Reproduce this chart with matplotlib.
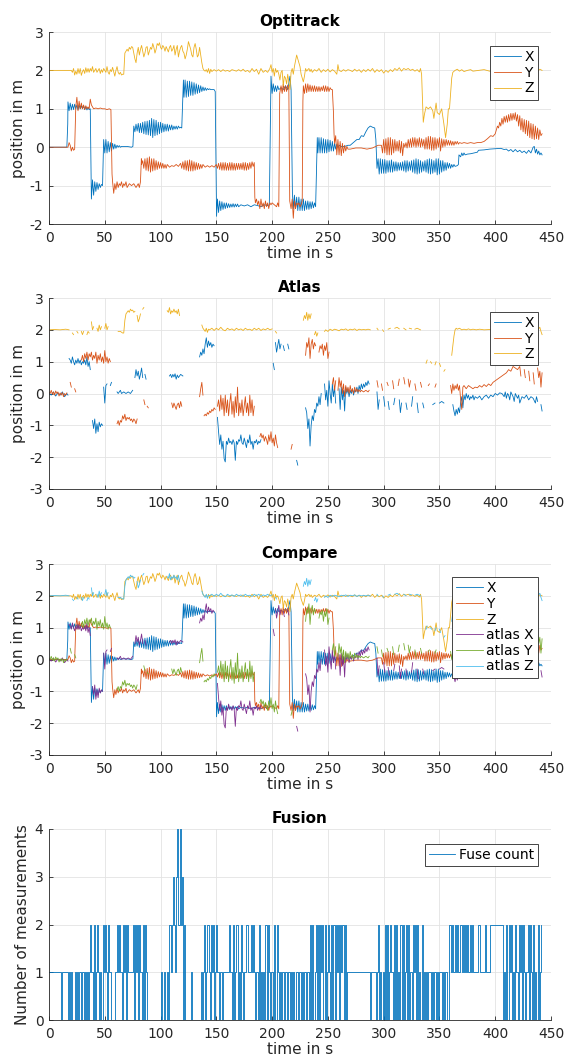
import numpy as np
import matplotlib
matplotlib.use("Agg")
import matplotlib.pyplot as plt

# ---------------- data ----------------
G = None  # gap marker (no measurement)

opt_x = [(0,0),(16,0),(16.8,0.6),(17,1.18),(18,0.95),(19,1.15),(20,0.97),(21,1.12),(22,0.98),(23,1.12),(24,1.0),(25,1.1),
 (26,0.98),(27,1.1),(28,1.0),(29,1.08),(30,1.0),(31,1.08),(32,0.98),(33,1.05),(34,0.97),(35,1.03),(36,0.98),(37,1.0),
 (38,-1.35),(39,-0.85),(40,-1.25),(41,-0.9),(42,-1.15),(43,-0.92),(44,-1.1),(45,-0.95),(46,-1.05),(47,-0.97),(48,-1.0),
 (49,0.2),(50,-0.15),(51,0.2),(52,-0.15),(53,0.15),(54,-0.12),(55,0.12),(56,-0.1),(57,0.1),(58,-0.05),(59,0.08),(60,-0.03),
 (61,0.05),(62,0.0),(63,0.04),(64,0.0),(65,0.02),(70,0.02),(74,0.0),(75.2,0.02),
 (76,0.55),(77,0.4),(78,0.6),(79,0.42),(80,0.62),(81,0.38),(82,0.62),(83,0.38),(84,0.65),(85,0.35),(86,0.67),(87,0.33),
 (88,0.68),(89,0.32),(90,0.7),(91,0.3),(92,0.75),(93,0.25),(94,0.72),(95,0.3),(96,0.7),(97,0.32),(98,0.65),(99,0.35),
 (100,0.65),(101,0.38),(102,0.62),(103,0.4),(104,0.6),(105,0.42),(106,0.6),(107,0.42),(108,0.58),(109,0.45),(110,0.58),
 (111,0.45),(112,0.55),(113,0.47),(114,0.55),(115,0.47),(116,0.55),(117,0.5),(118,0.52),(119,0.5),
 (120.5,1.75),(121,1.3),(122,1.75),(123,1.3),(124,1.72),(125,1.32),(126,1.72),(127,1.35),(128,1.7),(129,1.35),(130,1.68),
 (131,1.38),(132,1.65),(133,1.4),(134,1.62),(135,1.42),(136,1.6),(137,1.45),(138,1.57),(139,1.47),(140,1.55),(141,1.48),
 (142,1.53),(143,1.5),(144,1.52),(145,1.5),(148,1.5),(149,1.45),
 (150.2,-1.8),(151,-1.35),(152,-1.7),(153,-1.4),(154,-1.65),(155,-1.42),(156,-1.62),(157,-1.45),(158,-1.6),(159,-1.45),
 (160,-1.58),(161,-1.47),(162,-1.57),(163,-1.48),(164,-1.56),(165,-1.47),(166,-1.56),(167,-1.48),(168,-1.55),(169,-1.48),
 (170,-1.55),(172,-1.5),(175,-1.53),(178,-1.5),(181,-1.55),(184,-1.5),(187,-1.52),(190,-1.55),(193,-1.5),(196,-1.52),(197.5,-1.5),
 (199,1.85),(200,1.4),(201,1.65),(202,1.45),(203,1.6),(204,1.45),(205,1.6),(206,1.5),(208,1.55),(210,1.5),(212,1.6),
 (214,1.5),(216,1.85),(217,1.5),(218.2,-1.2),(219,-1.6),(220,-1.25),(221,-1.6),(222,-1.3),(223,-1.65),(224,-1.3),(225,-1.65),
 (226,-1.35),(227,-1.65),(228,-1.35),(229,-1.65),(230,-1.4),(231,-1.62),(232,-1.4),(233,-1.62),(234,-1.42),(235,-1.6),
 (236,-1.42),(237,-1.58),(238,-1.45),(239,-1.55),
 (240.5,0.25),(241,-0.15),(242,0.25),(243,-0.15),(244,0.25),(245,-0.15),(246,0.22),(247,-0.15),(248,0.2),(249,-0.15),
 (250,0.2),(251,-0.12),(252,0.18),(253,-0.1),(254,0.15),(255,-0.1),(256,0.1),(257,-0.05),(258,0.08),(259,-0.02),(260,0.05),
 (262,0.02),(265,0.02),(268,0.05),(270,0.05),(272,0.1),(274,0.15),(276,0.2),(278,0.2),(280,0.3),(282,0.28),(284,0.4),
 (286,0.5),(288,0.55),(290,0.52),(292,0.5),(293,0.2),(294,-0.55),
 (295,-0.3),(296,-0.7),(297,-0.3),(298,-0.68),(299,-0.32),(300,-0.68),(301,-0.32),(302,-0.68),(303,-0.35),(304,-0.65),
 (305,-0.35),(306,-0.65),(307,-0.33),(308,-0.65),(309,-0.38),(310,-0.62),(311,-0.38),(312,-0.62),(313,-0.4),(314,-0.6),
 (315,-0.4),(316,-0.6),(317,-0.38),(318,-0.62),(319,-0.35),(320,-0.65),(321,-0.35),(322,-0.62),(323,-0.38),(324,-0.6),
 (325,-0.35),(326,-0.65),(327,-0.33),(328,-0.68),(329,-0.3),(330,-0.7),(331,-0.32),(332,-0.68),(333,-0.35),(334,-0.65),
 (335,-0.38),(336,-0.62),(337,-0.35),(338,-0.65),(339,-0.32),(340,-0.68),(341,-0.3),(342,-0.7),(343,-0.32),(344,-0.68),
 (345,-0.35),(346,-0.65),(347,-0.3),(348,-0.72),(349,-0.3),(350,-0.7),(351,-0.35),(352,-0.65),(353,-0.35),(354,-0.62),
 (355,-0.4),(356,-0.6),(357,-0.4),(358,-0.55),(359,-0.42),(360,-0.55),(361,-0.45),(362,-0.52),(363,-0.45),(364,-0.5),
 (366,-0.48),(367,-0.45),(367.5,-0.2),(369,-0.25),(370,-0.15),(371,-0.22),(372,-0.15),(373,-0.2),(375,-0.18),(378,-0.17),
 (381,-0.15),(384,-0.13),(385,-0.08),(390,-0.07),(395,-0.05),(400,-0.04),(405,-0.03),(408,-0.06),(410,-0.05),(412,-0.1),
 (414,-0.06),(416,-0.12),(418,-0.06),(420,-0.12),(422,-0.08),(424,-0.14),(426,-0.1),(428,-0.16),(430,-0.08),(432,-0.15),
 (434,0.0),(435,0.02),(436,-0.15),(437,-0.05),(438,-0.18),(439,-0.1),(440,-0.2),(441,-0.15),(442,-0.2)]

opt_y = [(0,0),(17,0),(18,0.12),(19,0.05),(20,-0.1),(21,0.0),(22,-0.08),(23,-0.05),(24,1.05),(25,1.3),(26,0.95),(27,1.2),
 (28,1.0),(29,1.15),(30,1.0),(31,1.1),(32,0.98),(33,1.08),(34,1.0),(35,1.05),(36,1.0),(37,1.25),(38,1.1),(39,1.05),(40,1.0),
 (42,1.02),(44,1.0),(46,1.02),(48,1.0),(50,1.0),(52,0.98),(54,1.0),(55.5,0.98),(56.5,-0.7),(57,-0.9),(58,-1.2),(59,-0.95),
 (60,-1.1),(61,-0.9),(62,-1.05),(63,-0.95),(64,-1.0),(65,-0.9),(66,-1.05),(67,-0.95),(68,-1.0),(69,-0.9),(70,-1.05),
 (72,-0.95),(74,-1.0),(76,-0.95),(78,-1.05),(80,-0.95),(81,-1.05),(82,-0.9),(82.8,-0.3),(83,-0.45),(84,-0.35),(85,-0.55),
 (86,-0.3),(87,-0.6),(88,-0.28),(89,-0.62),(90,-0.25),(91,-0.65),(92,-0.3),(93,-0.62),(94,-0.3),(95,-0.6),(96,-0.35),
 (97,-0.58),(98,-0.38),(99,-0.55),(100,-0.4),(101,-0.55),(102,-0.42),(103,-0.55),(104,-0.45),(105,-0.55),(106,-0.45),
 (108,-0.52),(110,-0.48),(112,-0.5),(114,-0.45),(116,-0.5),(118,-0.42),(119,-0.55),(120,-0.38),(121,-0.58),(122,-0.35),
 (123,-0.6),(124,-0.35),(125,-0.62),(126,-0.33),(127,-0.62),(128,-0.35),(129,-0.62),(130,-0.38),(131,-0.6),(132,-0.4),
 (133,-0.58),(134,-0.42),(135,-0.57),(136,-0.45),(137,-0.55),(138,-0.45),(140,-0.52),(142,-0.48),(144,-0.52),(146,-0.48),
 (148,-0.52),(150,-0.45),(151,-0.55),(152,-0.42),(153,-0.58),(154,-0.4),(155,-0.6),(156,-0.4),(157,-0.6),(158,-0.4),
 (159,-0.6),(160,-0.42),(161,-0.6),(162,-0.4),(163,-0.6),(164,-0.4),(165,-0.6),(166,-0.42),(167,-0.6),(168,-0.42),
 (169,-0.58),(170,-0.42),(171,-0.58),(172,-0.42),(173,-0.58),(174,-0.4),(175,-0.6),(176,-0.4),(177,-0.6),(178,-0.42),
 (179,-0.58),(180,-0.4),(181,-0.55),(182,-0.38),(183,-0.5),(184,-0.4),(184.5,-1.3),(185,-1.45),(186,-1.35),(187,-1.5),
 (188,-1.4),(189,-1.6),(190,-1.35),(191,-1.55),(192,-1.45),(193,-1.6),(194,-1.4),(195,-1.55),(196,-1.45),(197,-1.6),
 (198,-1.45),(199,-1.5),(200,-1.45),(202,-1.5),(204,-1.55),(205,-1.45),(206,-1.55),(206.8,1.4),(208,1.6),(209,1.4),
 (210,1.65),(211,1.45),(212,1.6),(213,1.45),(214,1.62),(215,1.5),(215.8,-1.4),(217,-1.6),(218,-1.35),(219,-1.85),
 (220,-1.4),(221,-1.6),(222,-1.45),(223,-1.5),(224,-1.45),(225,-1.55),(226,-1.5),(227,-1.4),(227.6,1.2),(228,1.6),
 (229,1.4),(230,1.65),(231,1.42),(232,1.65),(233,1.45),(234,1.62),(235,1.45),(236,1.6),(237,1.45),(238,1.6),(239,1.45),
 (240,1.58),(241,1.45),(242,1.58),(243,1.45),(244,1.57),(245,1.47),(246,1.6),(247,1.45),(248,1.6),(249,1.45),(250,1.58),
 (251,1.45),(252,1.55),(253,1.5),(254,1.5),(255,0.9),(255.5,0.35),(256,0.1),(257,0.3),(258,-0.2),(259,0.2),(260,-0.2),
 (261,0.15),(262,-0.22),(263,0.1),(264,-0.15),(265,0.05),(266,-0.1),(267,0.02),(268,-0.05),(270,-0.05),(275,-0.02),
 (280,-0.02),(285,-0.05),(290,-0.02),(295,0.05),(298,0.05),(299,-0.15),(300,0.2),(301,-0.15),(302,0.22),(303,-0.2),
 (304,0.25),(305,-0.2),(306,0.25),(307,-0.2),(308,0.2),(309,-0.15),(310,0.2),(311,-0.1),(312,0.15),(313,-0.1),(314,0.18),
 (315,-0.15),(316,0.15),(317,-0.22),(318,0.1),(319,0.0),(320,0.12),(321,-0.02),(322,0.2),(323,0.0),(324,0.22),(325,0.0),
 (326,0.25),(327,0.02),(328,0.25),(329,0.0),(330,0.22),(331,0.02),(332,0.25),(333,0.0),(334,0.22),(335,0.02),(336,0.2),
 (337,-0.05),(338,0.25),(339,-0.05),(340,0.28),(341,-0.05),(342,0.28),(343,-0.08),(344,0.25),(345,-0.08),(346,0.25),
 (347,-0.05),(348,0.22),(349,0.0),(350,0.25),(351,-0.1),(352,0.22),(353,0.0),(354,0.2),(355,0.02),(356,0.2),(357,0.05),
 (358,0.18),(359,0.05),(360,0.17),(361,0.05),(362,0.15),(363,0.05),(364,0.15),(365,0.08),(366,0.15),(367,0.08),(368,0.12),
 (370,0.1),(372,0.12),(375,0.1),(378,0.12),(381,0.1),(384,0.12),(387,0.12),(390,0.15),(393,0.22),(396,0.3),(398,0.28),
 (400,0.35),(401,0.45),(402,0.55),(403,0.5),(404,0.65),(405,0.55),(406,0.75),(407,0.6),(408,0.8),(409,0.65),(410,0.82),
 (411,0.65),(412,0.85),(413,0.68),(414,0.88),(415,0.7),(416,0.88),(417,0.72),(418,0.9),(419,0.68),(420,0.85),(421,0.55),
 (422,0.82),(423,0.45),(424,0.75),(425,0.4),(426,0.72),(427,0.35),(428,0.7),(429,0.3),(430,0.68),(431,0.25),(432,0.62),
 (433,0.22),(434,0.6),(435,0.2),(436,0.55),(437,0.22),(438,0.5),(439,0.2),(440,0.45),(441,0.3),(442,0.35)]

opt_z = [(0,2.0),(20,2.0),(21,1.95),(22,2.05),(23,1.88),(24,1.98),(25,1.9),(26,2.05),(27,1.92),(28,2.05),(29,1.87),(30,1.97),
 (31,2.02),(32,1.92),(33,2.07),(34,1.95),(35,2.05),(36,1.95),(37,2.05),(38,1.98),(39,2.1),(40,1.95),(41,2.0),(42,2.05),
 (43,1.95),(44,2.0),(45,2.05),(46,1.92),(47,2.02),(48,1.95),(49,2.05),(50,2.0),(51,1.95),(52,2.1),(53,1.95),(54,1.9),
 (55,2.02),(56,1.97),(57,2.08),(58,1.97),(59,1.85),(60,2.0),(61,2.1),(62,1.95),(63,1.9),(64,1.95),(65,1.88),(66,1.9),
 (67,1.9),(68,2.45),(69,2.5),(70,2.55),(71,2.5),(72,2.6),(73,2.55),(74,2.62),(75,2.6),(76,2.45),(77,2.3),(78,2.2),
 (79,2.45),(80,2.6),(81,2.4),(82,2.55),(83,2.65),(84,2.5),(85,2.35),(86,2.45),(87,2.6),(88,2.62),(89,2.4),(90,2.5),
 (91,2.6),(92,2.55),(93,2.7),(94,2.6),(95,2.45),(96,2.55),(97,2.7),(98,2.65),(99,2.72),(100,2.6),(101,2.55),(102,2.65),
 (103,2.6),(104,2.5),(105,2.62),(106,2.55),(107,2.48),(108,2.6),(109,2.65),(110,2.5),(111,2.55),(112,2.65),(113,2.4),
 (114,2.55),(115,2.65),(116,2.35),(117,2.5),(118,2.6),(119,2.65),(120,2.5),(121,2.45),(122,2.3),(123,2.4),(124,2.55),
 (125,2.75),(126,2.65),(127,2.55),(128,2.4),(129,2.35),(130,2.6),(131,2.7),(132,2.55),(133,2.35),(134,2.4),(135,2.6),
 (136,2.4),(137,2.2),(138,2.05),(139,2.0),(140,1.98),(141,2.02),(142,1.95),(143,2.05),(144,1.92),(145,2.03),(146,1.97),
 (148,2.02),(150,1.98),(152,2.02),(154,1.97),(156,2.02),(158,1.98),(160,2.0),(162,1.97),(164,2.02),(166,2.0),(168,1.98),
 (170,2.02),(172,1.98),(174,2.03),(176,1.97),(178,2.0),(180,1.95),(182,2.05),(184,1.97),(186,2.03),(188,1.9),(190,2.05),
 (192,1.95),(194,2.0),(196,1.95),(198,2.05),(199,2.15),(200,1.95),(201,2.05),(202,1.85),(203,2.05),(204,1.95),(205,2.0),
 (206,1.9),(207,1.75),(208,1.95),(209,2.0),(210,1.6),(211,1.85),(212,1.8),(213,1.65),(214,1.9),(215,1.7),(216,1.5),
 (217,1.95),(218,2.05),(219,1.9),(220,2.1),(221,2.25),(222,2.4),(223,2.3),(224,2.2),(225,2.1),(226,1.9),(227,1.8),
 (228,1.7),(229,1.85),(230,2.05),(231,1.98),(232,2.02),(233,2.05),(234,1.97),(235,2.03),(236,1.95),(238,2.02),(240,1.98),
 (242,2.05),(244,1.95),(246,2.02),(248,1.97),(250,2.03),(252,1.96),(254,2.02),(256,1.98),(258,1.9),(259,2.15),(260,2.0),
 (262,1.97),(264,2.02),(266,1.98),(268,2.02),(270,2.0),(272,1.97),(274,2.03),(276,1.98),(278,2.02),(280,1.95),(282,2.02),
 (284,1.97),(286,2.03),(288,1.98),(290,2.05),(292,1.95),(294,2.02),(296,1.97),(298,2.02),(300,1.93),(302,2.0),(304,1.95),
 (306,2.02),(308,1.97),(310,2.05),(312,2.0),(314,2.07),(316,1.98),(318,2.05),(320,2.02),(322,2.05),(324,2.0),(326,2.03),
 (328,1.98),(330,2.02),(332,1.96),(333,2.05),(334,1.9),(334.5,1.5),(335.5,0.65),(336.5,0.85),(338,1.05),(340,1.0),
 (342,1.05),(344,0.95),(345,0.75),(346,0.95),(347,1.15),(348,0.9),(350,0.85),(352,1.0),(354,0.6),(355.5,0.25),(357,0.6),
 (358,1.0),(359,1.0),(360,1.4),(361,1.8),(362,1.95),(364,2.0),(366,2.03),(368,1.98),(370,2.02),(372,1.97),(375,2.0),
 (378,2.02),(380,1.98),(385,2.0),(390,2.02),(395,1.98),(400,2.0),(410,2.0),(420,2.0),(430,1.98),(435,2.02),(438,1.98),
 (440,2.03),(442,2.0)]

atlas_x = [(0,0.0),(2,-0.05),(4,0.05),(6,-0.08),(8,0.02),(10,-0.05),(12,0.05),(14,-0.1),(16,0.0),(17,-0.05),G,
 (18,1.1),(19,1.05),(20,0.95),(21,1.15),(22,1.0),(23,0.9),(24,1.05),(25,0.95),(26,1.1),(27,0.95),(28,1.05),(29,0.9),
 (30,1.0),(31,0.95),(32,1.05),(33,0.9),(34,1.15),(35,0.85),(36,1.0),(37,0.75),G,
 (39,-0.85),(40,-1.1),(41,-0.8),(42,-1.25),(43,-0.95),(44,-1.2),(45,-0.9),(46,-1.05),(47,-0.95),(48,-1.0),G,
 (49,0.2),(50,-0.3),(51,0.25),(52,0.3),G,(55,0.25),(56,0.35),G,
 (61,0.05),(62,0.0),(64,0.1),(65,0.0),(67,0.05),(69,0.0),(71,0.05),(73,0.0),(75,0.1),G,
 (77,0.5),(78,0.75),(79,0.55),(80,0.7),(81,0.45),(82,0.6),(83,0.8),(84,0.5),G,(86,0.6),(87,0.45),G,
 (108,0.55),(109,0.6),(110,0.5),(111,0.6),(112,0.52),(113,0.62),(114,0.45),(115,0.58),(116,0.5),(118,0.6),(120,0.55),G,
 (135,1.15),(136,1.3),(137,1.2),(138,1.4),(139,1.25),(140,1.55),(141,1.75),(142,1.45),(143,1.65),(144,1.5),(145,1.6),
 (146,1.45),(147,1.55),(148,1.5),G,
 (151,-0.75),(152,-1.2),(153,-1.6),(154,-1.3),(155,-1.75),(156,-1.5),(157,-2.05),(158,-2.15),(159,-1.5),(160,-1.6),
 (161,-1.4),(162,-1.55),(163,-1.5),(164,-1.6),(165,-1.45),(166,-1.55),(167,-2.1),(168,-1.5),(169,-1.6),(170,-1.45),
 (171,-1.5),(172,-1.3),(173,-1.55),(174,-1.6),(175,-1.4),(176,-1.55),(177,-1.7),(178,-1.45),(179,-1.55),(180,-1.3),
 (181,-1.6),(182,-1.5),(183,-1.75),(184,-1.5),(185,-1.55),(186,-1.45),(187,-1.6),(188,-1.5),(189,-1.55),(190,-1.45),G,
 (201,0.95),(202,0.75),G,(203,1.6),(204,1.3),(205,1.5),(206,1.7),(207,1.4),(208,1.55),G,(210,1.5),(211,1.35),G,
 (214,1.55),(215,1.4),G,(222,-2.1),(223,-2.25),G,
 (230,-0.45),(231,-0.6),(232,-1.1),(233,-0.8),(234,-1.65),(235,-1.0),(236,-0.7),(237,-0.85),(238,-0.5),(239,-0.6),
 (240,-0.3),(241,-0.4),(242,-0.1),(243,-0.35),(244,0.0),G,
 (247,0.3),(248,-0.2),(249,0.1),(250,-0.4),(251,0.4),(252,0.0),(253,-0.3),(254,0.3),(255,-0.1),(256,0.2),(257,-0.3),G,
 (260,0.15),(261,-0.5),(262,0.2),(263,-0.2),(264,0.1),(265,-0.55),(266,0.2),(267,0.0),(268,0.15),(269,-0.1),(270,0.1),
 (271,0.0),(272,0.15),(273,-0.05),(274,0.1),(275,0.05),(276,0.2),(277,0.0),(278,0.25),(279,0.1),(280,0.3),(281,0.15),
 (282,0.3),(283,0.2),(284,0.35),(285,0.25),(286,0.4),(287,0.3),G,
 (294,0.05),(295,-0.5),(296,-0.2),G,(300,-0.1),(301,-0.4),G,(304,-0.25),(305,-0.5),G,(309,-0.35),(310,-0.15),G,
 (314,-0.2),(315,-0.6),(316,-0.3),G,(320,-0.3),(321,-0.5),G,(325,-0.4),(326,-0.1),G,(330,-0.3),(331,-0.6),G,
 (335,-0.3),(336,-0.45),G,(344,-0.35),(346,-0.3),G,(350,-0.3),(352,-0.25),(354,-0.3),G,
 (362,-0.35),(363,-0.55),(364,-0.7),(365,-0.5),(366,-0.65),(367,-0.45),(368,-0.6),(369,-0.3),(370,-0.1),(371,-0.45),
 (372,-0.05),(373,-0.2),(374,0.0),(375,-0.15),(376,-0.05),(377,-0.2),(378,-0.1),(379,-0.15),(380,-0.05),(381,-0.2),
 (382,-0.1),(384,-0.15),(386,-0.08),(388,-0.2),(390,-0.1),(392,-0.05),(394,-0.15),(396,-0.05),(398,-0.1),(400,0.0),
 (402,-0.05),(404,0.02),(406,0.0),(408,-0.1),(409,0.05),(410,-0.15),(411,0.0),(412,-0.05),(413,-0.2),(414,0.05),
 (416,-0.1),(417,-0.25),(418,0.0),(420,-0.15),(421,-0.05),(422,-0.3),(424,-0.1),(426,-0.15),(428,-0.05),(430,-0.2),
 (432,-0.1),(434,-0.15),(436,-0.3),(437,-0.1),(438,-0.25),G,(441,-0.35),(442,-0.55)]

atlas_y = [(0,0.05),(1,0.0),(2,0.1),(3,-0.02),(4,0.05),(5,-0.05),(6,0.08),(7,0.0),(8,0.05),(9,-0.08),(10,0.02),(11,-0.05),
 (12,0.03),(13,-0.1),(14,0.0),(15,-0.05),(16,0.02),G,(19,0.35),(20,0.2),G,(23,0.15),(24,0.05),G,
 (29,1.05),(30,1.2),(31,1.0),(32,1.25),(33,1.1),(34,1.3),(35,1.05),(36,1.25),(37,1.15),(38,1.3),(39,1.05),(40,1.2),
 (41,1.1),(42,1.3),(43,0.95),(44,1.2),(45,1.05),(46,1.25),(47,1.0),(48,1.15),(49,0.95),(50,1.35),(51,1.0),(52,1.15),
 (53,0.95),(54,1.1),(55,1.0),G,
 (61,-0.95),(62,-0.85),(63,-1.0),(64,-0.85),(65,-0.9),(66,-0.7),(67,-0.8),(68,-0.65),(69,-0.85),(70,-0.75),(71,-0.8),
 (72,-0.75),(73,-0.85),(74,-0.8),(75,-0.9),(76,-0.8),(77,-0.85),(78,-0.95),(79,-0.8),G,
 (85,-0.2),(86,-0.35),G,(88,-0.4),(89,-0.45),G,
 (110,-0.3),(111,-0.45),(112,-0.3),(113,-0.4),(114,-0.5),(115,-0.35),(116,-0.3),(117,-0.45),(118,-0.25),(119,-0.4),G,
 (135,-0.1),(136,0.15),(137,0.35),(138,-0.05),G,
 (139,-0.7),(140,-0.65),(141,-0.7),(142,-0.6),(143,-0.65),(144,-0.55),(145,-0.6),(146,-0.5),(147,-0.55),(148,-0.45),
 (149,-0.5),G,
 (151,-0.4),(152,-0.2),(153,-0.55),(154,-0.05),(155,-0.5),(156,-0.15),(157,-0.7),(158,-0.05),(159,-0.6),(160,-0.2),
 (161,-0.7),(162,-0.3),(163,0.0),(164,-0.65),(165,-0.25),(166,-0.75),(167,-0.1),(168,-0.6),(169,0.2),(170,-0.7),
 (171,-0.3),(172,-0.6),(173,-0.2),(174,-0.7),(175,-0.4),(176,-0.1),(177,-0.6),(178,-0.3),(179,-0.7),(180,-0.05),
 (181,-0.6),(182,-0.2),(183,-0.7),(184,-0.4),G,
 (189,-1.35),(190,-1.25),(191,-1.4),(192,-1.3),(193,-1.5),(194,-1.35),(195,-1.45),(196,-1.6),(197,-1.3),(198,-1.5),
 (199,-1.2),(200,-1.55),(201,-1.4),(202,-1.65),(203,-1.3),(204,-1.55),(205,-1.7),G,(217,-1.75),(218,-1.6),G,
 (230,1.2),(231,1.6),(232,1.45),(233,1.75),(234,1.1),(235,1.55),(236,1.7),(237,1.4),(238,1.6),(239,1.5),G,
 (242,1.3),(243,1.5),(244,1.4),(245,1.55),(246,1.2),(247,1.5),(248,1.35),(249,1.6),(250,1.1),(251,1.3),G,
 (254,0.3),(255,0.5),(256,0.1),(257,0.4),G,(259,0.1),(260,0.5),(261,0.2),(262,0.4),(263,0.0),(264,0.3),(265,-0.1),
 (266,0.25),(267,0.05),(268,0.2),(269,0.0),(270,0.25),(271,0.05),(272,0.15),(273,0.0),(274,0.2),(275,0.05),(276,0.15),
 (277,0.05),(278,0.12),(279,0.05),(280,0.1),(282,0.05),(284,0.1),(286,0.05),(287,0.1),G,
 (294,0.4),(295,0.2),G,(298,0.3),(299,0.1),G,(303,0.35),(304,0.25),G,(308,0.4),(309,0.15),G,(313,0.25),(314,0.45),G,
 (318,0.5),(319,0.3),G,(322,0.45),(323,0.2),(324,0.4),G,(328,0.3),(329,0.1),G,(333,0.35),(334,0.2),G,
 (340,0.25),(341,0.3),G,(346,0.2),(347,0.3),G,
 (360,0.25),(361,0.0),(362,0.3),(363,0.1),(364,0.25),(365,0.15),(366,0.3),(367,0.1),(368,0.25),(369,-0.2),(370,-0.5),
 (371,0.2),(372,0.25),(374,0.15),(376,0.25),(378,0.2),(380,0.15),(382,0.2),(384,0.18),(386,0.25),(388,0.2),(390,0.28),
 (392,0.22),(394,0.3),(396,0.25),(398,0.35),(400,0.4),(402,0.45),(404,0.5),(406,0.55),(408,0.6),(410,0.65),(412,0.75),
 (414,0.7),(416,0.85),(418,0.8),(420,0.75),(422,0.85),(423,0.55),G,(426,0.75),(427,0.5),G,(430,0.7),(431,0.4),G,
 (434,0.65),(435,0.3),G,(438,0.8),(439,0.5),(440,0.7),(441,0.2),(442,0.65)]

atlas_z = [(0,2.0),(5,2.01),(10,2.0),(15,2.02),(18,2.0),G,(21,1.9),(22,1.85),G,(25,1.95),(26,1.9),G,(29,1.95),(30,1.85),
 (31,1.95),G,(34,1.85),(35,1.95),(36,1.9),G,(38,2.25),(39,2.0),(40,2.1),G,(43,2.05),(44,1.95),(45,2.15),(46,2.0),
 (47,2.1),G,(50,2.05),(51,2.2),(52,2.0),(53,2.1),G,
 (62,1.95),(64,1.95),(66,1.9),(67,1.9),(68,2.3),(69,2.5),(70,2.55),(71,2.6),(72,2.55),(73,2.65),(74,2.6),(75,2.62),
 (76,2.55),(77,2.58),G,(79,2.45),(80,2.25),(81,2.35),(82,2.5),G,(84,2.65),(85,2.7),G,
 (106,2.6),(107,2.55),(108,2.7),(109,2.5),(110,2.6),(111,2.55),(112,2.65),(113,2.55),(114,2.6),(115,2.5),(116,2.65),
 (117,2.45),G,
 (137,2.15),(138,2.05),(139,2.0),(140,1.95),(141,2.05),(142,1.92),(143,2.02),(144,2.0),(146,2.05),(148,1.98),(150,2.05),
 (152,2.0),(154,2.08),(156,2.0),(158,1.97),(160,2.05),(162,2.0),(164,2.03),(166,1.98),(168,2.05),(170,2.0),(172,2.03),
 (174,1.98),(176,2.05),(178,2.0),(180,2.02),(182,1.98),(184,2.05),(186,2.0),(188,2.05),(190,1.98),(192,2.03),(194,2.0),
 (196,2.05),(198,2.0),(200,2.03),G,(203,1.95),(204,1.9),G,
 (228,2.3),(229,2.45),(230,2.35),(231,2.55),(232,2.3),(233,2.5),(234,2.35),(235,2.5),G,
 (238,1.85),(239,1.95),(240,1.8),(241,1.9),G,
 (247,1.95),(248,2.0),(250,1.95),(252,2.02),(254,1.98),(256,2.02),(258,2.0),(260,1.97),(262,2.02),(264,2.0),(266,2.03),
 (268,1.98),(270,2.02),(272,2.0),(274,2.03),(276,1.98),(278,2.02),(280,2.0),(282,2.01),(284,2.0),(286,2.02),(288,2.0),G,
 (294,2.05),(295,2.0),G,(299,2.0),(300,1.95),G,(304,2.02),(306,2.05),G,(310,2.05),(312,2.08),(314,2.03),G,
 (318,2.05),(320,2.0),G,(323,2.05),(325,2.03),G,(328,2.02),(330,2.05),(333,2.0),G,
 (338,0.95),(339,1.05),G,(342,1.0),(343,0.95),G,(346,0.9),(347,1.0),G,(350,0.95),(351,0.85),G,(354,0.7),(355,0.75),G,
 (361,1.2),(362,1.5),(363,1.8),(364,2.0),(365,2.05),(366,2.02),(368,2.05),(370,2.0),(372,2.02),(374,2.0),(376,2.03),
 (378,2.0),(380,2.02),(383,2.0),(386,2.02),(390,2.0),(395,2.01),(400,2.0),(405,2.02),(410,2.0),(415,2.01),(420,2.0),
 (425,2.02),(430,2.0),(435,2.01),(438,2.0),(440,2.08),(441,1.95),(442,1.85)]

# number of fused measurements, one digit per second starting at t = 0 s
fuse_digits = ("11111111111" "0" "11111" "01010010101101010101" "210201210102121021" "100011"
               "212102120" "21111" "202120210202" "1000000000000" "1" "0010010" "212321" "3424"
               "23020" "000010000000" "0101201" "210212012" "1011011" "111211" "020120102101"
               "121112121" "010201010202101" "10" "2021" "0101101011010101101101010110"
               "2020120202120201210202021202120201" "1111111111" "111111111" "101" "111" "0120101"
               "020201210202010202012020102120201020" "1010110101101011010110"
               "02121121212212121212121" "11112111112111222222222222"
               "01020212010210212021012021020102012")

pos_labels = ["X", "Y", "Z"]
cmp_labels = ["X", "Y", "Z", "atlas X", "atlas Y", "atlas Z"]
titles = ["Optitrack", "Atlas", "Compare", "Fusion"]
colors = ["#0072BD", "#D95319", "#EDB120", "#7E2F8E", "#77AC30", "#4DBEEE"]


def split(pts):
    t = np.array([np.nan if p is None else p[0] for p in pts], dtype=float)
    v = np.array([np.nan if p is None else p[1] for p in pts], dtype=float)
    return t, v


plt.rcParams['font.family'] = ['DejaVu Sans']
plt.rcParams['axes.unicode_minus'] = False
fig = plt.figure(figsize=(5.66, 10.59), dpi=100)

AX_L, AX_R = 49, 551
L, W = AX_L/566, (AX_R - AX_L)/566
rows = [(32, 224), (298, 489), (564, 755), (829, 1020)]
leg_top = [46, 311.7, 577, 844]
leg_right = 538
axes = []
for (top, bot) in rows:
    axes.append(fig.add_axes([L, 1 - bot/1059, W, (bot - top)/1059]))

def style(ax, title, ylabel, ylim, yticks):
    ax.set_xlim(0, 450)
    ax.set_ylim(*ylim)
    ax.set_xticks(np.arange(0, 451, 50))
    ax.set_yticks(yticks)
    ax.grid(True, color='#e3e3e3', lw=0.6)
    ax.set_axisbelow(True)
    for s in ['top', 'right']:
        ax.spines[s].set_visible(False)
    for s in ['bottom', 'left']:
        ax.spines[s].set_color('#262626')
        ax.spines[s].set_linewidth(0.6)
    ax.tick_params(direction='in', length=3, width=0.6, color='#262626',
                   labelsize=10, labelcolor='#262626')
    ax.tick_params(axis='x', pad=5)
    ax.tick_params(axis='y', pad=4)
    ax.set_title(title, fontsize=11, fontweight='bold', pad=4)
    ax.set_xlabel("time in s", fontsize=11, color='#262626', labelpad=1)
    ax.set_ylabel(ylabel, fontsize=11, color='#262626', labelpad=3)

def legend(ax, i, top, bot):
    lg = ax.legend(loc='upper right',
                   bbox_to_anchor=((leg_right - AX_L)/(AX_R - AX_L), 1 - (leg_top[i] - top)/(bot - top)),
                   borderaxespad=0, fontsize=10, frameon=True, fancybox=False, framealpha=1,
                   edgecolor='#262626', handlelength=1.9, handletextpad=0.25, borderpad=0.3,
                   labelspacing=0.12)
    lg.get_frame().set_linewidth(0.6)

LW = 0.6
opt = [split(opt_x), split(opt_y), split(opt_z)]
atl = [split(atlas_x), split(atlas_y), split(atlas_z)]

# Optitrack
ax = axes[0]
for k in range(3):
    ax.plot(opt[k][0], opt[k][1], color=colors[k], lw=LW, label=pos_labels[k])
style(ax, titles[0], "position in m", (-2, 3), np.arange(-2, 4, 1))
legend(ax, 0, *rows[0])

# Atlas
ax = axes[1]
for k in range(3):
    ax.plot(atl[k][0], atl[k][1], color=colors[k], lw=LW, label=pos_labels[k])
style(ax, titles[1], "position in m", (-3, 3), np.arange(-3, 4, 1))
legend(ax, 1, *rows[1])

# Compare
ax = axes[2]
for k in range(3):
    ax.plot(opt[k][0], opt[k][1], color=colors[k], lw=LW, label=cmp_labels[k])
for k in range(3):
    ax.plot(atl[k][0], atl[k][1], color=colors[3 + k], lw=LW, label=cmp_labels[3 + k])
style(ax, titles[2], "position in m", (-3, 3), np.arange(-3, 4, 1))
legend(ax, 2, *rows[2])

# Fusion
ax = axes[3]
fuse = np.array([int(c) for c in fuse_digits])
fuse_t = np.arange(len(fuse), dtype=float)
ax.plot(fuse_t, fuse, color=colors[0], lw=0.6, drawstyle='steps-post', label="Fuse count")
style(ax, titles[3], "Number of measurements", (0, 4), np.arange(0, 5, 1))
legend(ax, 3, *rows[3])

fig.savefig("out.png", dpi=100)
